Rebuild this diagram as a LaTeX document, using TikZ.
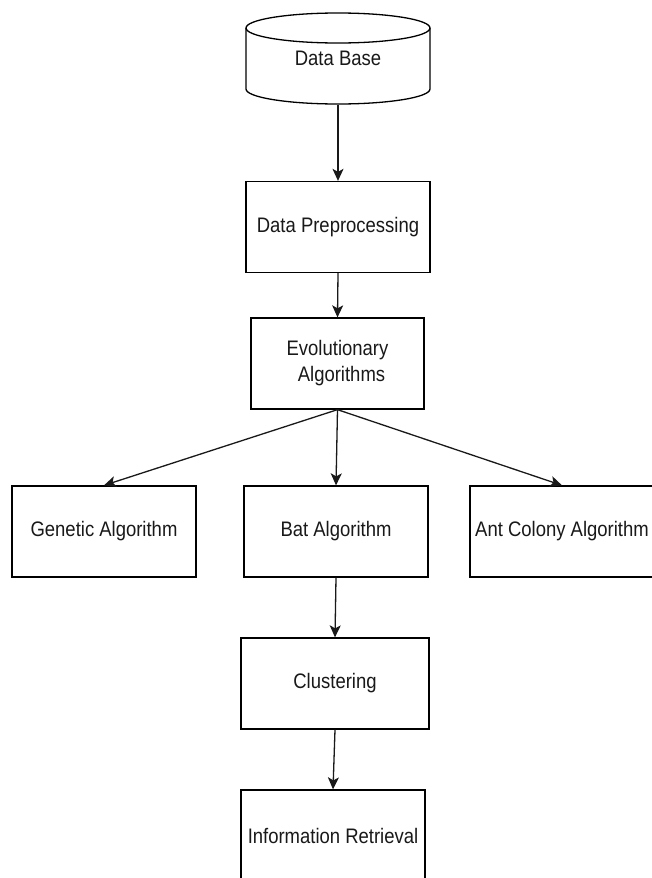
\documentclass[tikz,border=0pt]{standalone}
\usepackage{fontspec}
\setmainfont{Liberation Sans}[FakeStretch=0.88]
\usetikzlibrary{arrows.meta}
\begin{document}
\begin{tikzpicture}[x=1pt,y=-1pt,
  box/.style={draw=black, line width=1.3pt, minimum width=184pt, minimum height=91pt,
    inner sep=0pt, font=\fontsize{21}{26}\selectfont, align=center, text=black!90},
  arr/.style={draw=black!90, line width=1.3pt, -{Stealth[length=12pt,width=11pt,inset=3pt]}}]
\useasboundingbox (0,0) rectangle (651,878);
\fill[white] (0,0) rectangle (651,878);
% cylinder
\draw[line width=1.3pt] (338,28) ellipse [x radius=92pt, y radius=15pt];
\draw[line width=1.3pt] (246,28) -- (246,89) arc[start angle=180, end angle=360, x radius=92pt, y radius=15pt] -- (430,28);
\node[box, draw=none] (db) at (338,58.5) {Data Base};
\node[box] (dp) at (338,227) {Data Preprocessing};
\node[box, minimum width=173pt] (ea) at (337.5,363.5) {Evolutionary\\\hspace*{8pt}Algorithms};
\node[box] (ga) at (104,531.5) {Genetic Algorithm};
\node[box] (ba) at (336,531.5) {Bat Algorithm};
\node[box] (aca) at (562,531.5) {Ant Colony Algorithm};
\node[box, minimum width=188pt] (cl) at (335,683.5) {Clustering};
\node[box] (ir) at (333,835.5) {Information Retrieval};
\draw[arr] (db.south) -- (dp.north);
\draw[arr] (dp.south) -- (ea.north);
\draw[arr] (ea.south) -- (ga.north);
\draw[arr] (ea.south) -- (ba.north);
\draw[arr] (ea.south) -- (aca.north);
\draw[arr] (ba.south) -- (cl.north);
\draw[arr] (cl.south) -- (ir.north);
\end{tikzpicture}
\end{document}
